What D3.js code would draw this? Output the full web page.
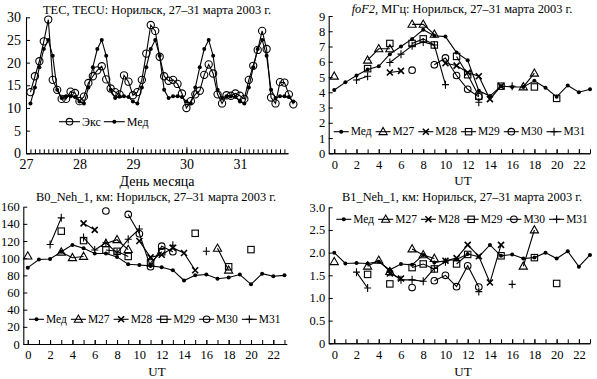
<!DOCTYPE html>
<html><head><meta charset="utf-8">
<script src="https://cdn.jsdelivr.net/npm/d3@7"></script>
<style>
body{margin:0;background:#fff}
svg{display:block}
text{font-family:"Liberation Serif","Times New Roman",serif;fill:#000}
</style>
</head><body>
<svg id="c" width="597" height="379"></svg>
<script>
// ---------- DATA ----------
// Panel 1: TEC
const tecDays = [27, 28, 29, 30, 31];
const tecHours = [2, 4, 6, 8, 10, 12, 14, 16, 18, 20, 22, 24];
const tecEks = [13.5,17,20.3,24.7,29.5,16.2,14,12,12,13.6,13.3,11.5,
                12.5,15.5,17,18.3,19.2,16.3,14.3,13.5,13,17.2,15.8,12.8,
                13.5,16.2,22,28.3,27,21.3,17,16,16.2,15.3,13.2,10,
                11.5,13,13.8,17.3,19.6,17.6,13,11,12.8,12.7,13.2,12.7,
                12,16.2,19.3,22.8,27,23,12.3,11,15.7,15.6,13,10.8];
const tecMed = [11,14.5,19,23,25,21.5,14,12.2,12.6,12.6,12.4,11.4,
                11,14.5,19,23,25,21.5,14,12.2,12.6,12.6,12.4,11.4,
                11,14.5,19,23,25,21.5,14,12.2,12.6,12.6,12.4,11.4,
                11,14.5,19,23,25,21.5,14,12.2,12.6,12.6,12.4,11.4,
                11,14.5,19,23,25,21.5,14,12.2,12.6,12.6,12.4,11.4];
const tecXTicks = [27, 28, 29, 30, 31];
const tecYTicks = [0, 5, 10, 15, 20, 25, 30];

// Panels 2-4: UT hours
const utHours = [0,1,2,3,4,5,6,7,8,9,10,11,12,13,14,15,16,17,18,19,20,21,22,23];
const utTicks = [0,2,4,6,8,10,12,14,16,18,20,22];
const _ = null;

// foF2, MHz
const fofMed = [4.15,4.65,5.1,5.5,5.7,6.5,7.0,7.5,8.1,7.7,7.65,6.6,6.1,4.1,3.75,4.4,4.35,4.35,4.75,4.3,3.7,4.45,4.0,4.2];
const fofM27 = [5.05,_,_,6.1,6.85,6.85,_,8.45,8.45,7.8,_,_,_,_,_,_,_,4.35,5.25,_,_,_,_,_];
const fofM28 = [_,_,_,_,_,5.3,5.4,_,_,_,5.9,5.75,5.3,5.05,3.55,4.4,_,_,_,_,_,_,_,_];
const fofM29 = [_,_,_,5.55,_,7.2,_,7.2,7.5,7.1,_,6.35,5.15,3.75,_,4.4,_,_,4.35,_,3.6,_,_,_];
const fofM30 = [_,_,_,_,_,_,_,5.45,_,5.8,6.25,5.1,4.2,3.7,_,_,_,_,_,_,_,_,_,_];
const fofM31 = [_,_,4.8,5.05,_,5.95,6.5,7.05,7.3,7.1,4.5,_,_,3.35,_,_,4.4,_,_,_,_,_,_,_];
const fofYTicks = [0,1,2,3,4,5,6,7,8,9];

// B0_Neh_1, km
const b0Med = [89,98.5,99,107.5,115.5,111.5,105.5,105.5,101.5,93,92,91,89.5,86,74,80,81,76,77.5,81,69.5,82,79,80];
const b0M27 = [102.5,_,_,107,100.5,102,_,117,121.5,110,_,_,_,_,_,_,_,111.5,86,_,_,_,_,_];
const b0M28 = [_,_,_,_,_,140.5,133,_,_,_,120,101,104,112,106,86,_,_,_,_,_,_,_,_];
const b0M29 = [_,_,_,131.5,_,120.5,_,109.5,108,102,_,94.5,107.5,_,_,129,_,_,90,_,110,_,_,_];
const b0M30 = [_,_,_,_,_,_,_,155,_,151,128.5,90,114,107.5,_,_,_,_,_,_,_,_,_,_];
const b0M31 = [_,_,116,147,_,124,109.5,118,106,122,134,_,_,115,_,_,108,_,_,_,_,_,_,_];
const b0YTicks = [0,20,40,60,80,100,120,140,160];

// B1_Neh_1
const b1Med = [2.0,1.76,1.77,1.76,1.8,1.62,1.75,1.73,1.95,1.78,1.82,1.85,1.97,1.91,2.17,1.93,1.96,1.87,1.89,2.0,1.87,2.03,1.69,1.95];
const b1M27 = [1.8,_,_,1.7,1.83,1.58,_,2.08,1.95,1.87,_,_,_,_,_,_,_,1.7,2.5,_,_,_,_,_];
const b1M28 = [_,_,_,_,_,1.54,1.43,_,_,_,1.82,1.88,2.17,1.92,1.34,2.17,_,_,_,_,_,_,_,_];
const b1M29 = [_,_,_,1.52,_,1.31,_,1.67,1.75,1.64,_,1.75,1.96,_,_,1.93,_,_,1.89,_,1.32,_,_,_];
const b1M30 = [_,_,_,_,_,_,_,1.23,_,1.38,1.5,1.25,1.71,1.24,_,_,_,_,_,_,_,_,_,_];
const b1M31 = [_,_,1.57,1.22,_,1.57,1.4,1.4,1.37,1.65,1.8,_,_,1.14,_,_,1.3,_,_,_,_,_,_,_];
const b1YTicks = [0,0.5,1.0,1.5,2.0,2.5,3.0];

const seriesNames = ["Мед","М27","М28","М29","М30","М31"];
const seriesMarkers = ["dot","tri","x","sq","circle","plus"];

// ---------- DRAWING ----------
const svg = d3.select("#c");

function marker(g, type, cx, cy, big) {
  const s = big ? 1.1 : 1;
  if (type === "dot") {
    g.append("circle").attr("cx", cx).attr("cy", cy).attr("r", 2).attr("fill", "#000");
  } else if (type === "circle") {
    g.append("circle").attr("cx", cx).attr("cy", cy).attr("r", 3.3 * s)
      .attr("fill", "none").attr("stroke", "#000").attr("stroke-width", 1.1);
  } else if (type === "tri") {
    g.append("path").attr("transform", `translate(${cx},${cy})`)
      .attr("d", "M0,-4.3L4.1,2.9L-4.1,2.9Z")
      .attr("fill", "none").attr("stroke", "#000").attr("stroke-width", 1.1);
  } else if (type === "sq") {
    g.append("rect").attr("x", cx - 3.2).attr("y", cy - 3.2).attr("width", 6.4).attr("height", 6.4)
      .attr("fill", "none").attr("stroke", "#000").attr("stroke-width", 1.1);
  } else if (type === "x") {
    g.append("path").attr("transform", `translate(${cx},${cy})`)
      .attr("d", "M-3,-3L3,3M-3,3L3,-3")
      .attr("stroke", "#000").attr("stroke-width", 1.6).attr("fill", "none");
  } else if (type === "plus") {
    g.append("path").attr("transform", `translate(${cx},${cy})`)
      .attr("d", "M-3.5,0H3.5M0,-4V4")
      .attr("stroke", "#000").attr("stroke-width", 1.1).attr("fill", "none");
  }
}

function drawSeries(g, x, y, xs, vals, type) {
  const pts = xs.map((t, i) => [t, vals[i]]);
  const line = d3.line().defined(d => d[1] !== null).x(d => x(d[0])).y(d => y(d[1]));
  g.append("path").datum(pts).attr("d", line)
    .attr("fill", "none").attr("stroke", "#000").attr("stroke-width", 1.1);
  pts.filter(d => d[1] !== null).forEach(d => marker(g, type, x(d[0]), y(d[1]), type === "circle" && xs.length > 30));
}

function styleAxis(sel, fs) {
  sel.selectAll("path.domain").attr("stroke", "#000").attr("stroke-width", 1.1);
  sel.selectAll(".tick line").attr("stroke", "#000").attr("stroke-width", 1);
  sel.selectAll(".tick text").attr("font-size", fs).attr("font-family", '"Liberation Serif", serif');
}

function legend(g, x0, y, names, markers, fs, lineLen, gap) {
  let x = x0;
  names.forEach((n, i) => {
    g.append("line").attr("x1", x).attr("x2", x + lineLen).attr("y1", y).attr("y2", y)
      .attr("stroke", "#000").attr("stroke-width", 1.1);
    marker(g, markers[i], x + lineLen / 2, y, false);
    const t = g.append("text").attr("x", x + lineLen + 2).attr("y", y + fs * 0.33)
      .attr("font-size", fs).text(n);
    x += lineLen + 2 + t.node().getComputedTextLength() + gap;
  });
}

function title(g, cx, y, parts, fs) {
  const t = g.append("text").attr("x", cx).attr("y", y).attr("text-anchor", "middle").attr("font-size", fs);
  parts.forEach(p => { const s = t.append("tspan").text(p[0]); if (p[1]) s.attr("font-style", "italic"); });
}

// ---- Panel 1: TEC ----
(function () {
  const g = svg.append("g");
  const x = d3.scaleLinear().domain([27, 31.9]).range([26, 288]);
  const y = d3.scaleLinear().domain([0, 30]).range([153.3, 17.3]);
  const tecTime = tecDays.flatMap(d => tecHours.map(h => d + h / 24));
  const minor = [27].concat(tecTime.filter(t => t <= 31.9));
  const gm = g.append("g").attr("transform", `translate(0,${y(0)})`)
    .call(d3.axisBottom(x).tickValues(minor).tickFormat("").tickSizeInner(-4).tickSizeOuter(0));
  styleAxis(gm, 14);
  const gx = g.append("g").attr("transform", `translate(0,${y(0)})`)
    .call(d3.axisBottom(x).tickValues(tecXTicks).tickFormat(d3.format("d")).tickSizeInner(-6).tickSizeOuter(0).tickPadding(6));
  styleAxis(gx, 14);
  const gy = g.append("g").attr("transform", `translate(${x(27)},0)`)
    .call(d3.axisLeft(y).tickValues(tecYTicks).tickSizeInner(-4).tickSizeOuter(0).tickPadding(5));
  styleAxis(gy, 14);
  drawSeries(g, x, y, tecTime, tecEks, "circle");
  drawSeries(g, x, y, tecTime, tecMed, "dot");
  legend(g, 59, 121.7, ["Экс", "Мед"], ["circle", "dot"], 12, 21, 3);
  title(g, 157, 13.5, [["TEC, TECU: Норильск, 27–31 марта 2003 г."]], 12.4);
  g.append("text").attr("x", 157).attr("y", 186).attr("text-anchor", "middle").attr("font-size", 14).text("День месяца");
})();

function utPanel(cfg) {
  const g = svg.append("g");
  const x = d3.scaleLinear().domain(cfg.xd).range(cfg.xr);
  const y = d3.scaleLinear().domain(cfg.yd).range(cfg.yr);
  const gm = g.append("g").attr("transform", `translate(0,${y(0)})`)
    .call(d3.axisBottom(x).tickValues(utHours).tickFormat("").tickSizeInner(-4).tickSizeOuter(0));
  styleAxis(gm, 12.5);
  const gx = g.append("g").attr("transform", `translate(0,${y(0)})`)
    .call(d3.axisBottom(x).tickValues(utTicks).tickFormat(d3.format("d")).tickSizeInner(-4).tickSizeOuter(0).tickPadding(6.5));
  styleAxis(gx, 12.5);
  const gy = g.append("g").attr("transform", `translate(${cfg.xr[0]},0)`)
    .call(d3.axisLeft(y).tickValues(cfg.yt).tickFormat(cfg.yf).tickSizeInner(-4).tickSizeOuter(0).tickPadding(3.5));
  styleAxis(gy, 12.5);
  cfg.series.forEach((s, i) => drawSeries(g, x, y, utHours, s, seriesMarkers[i]));
  legend(g, cfg.lx, cfg.ly, seriesNames, seriesMarkers, 11.5, 15, 4);
  title(g, cfg.tx, cfg.ty, cfg.title, 12.4);
  g.append("text").attr("x", cfg.ux).attr("y", cfg.uy).attr("text-anchor", "middle").attr("font-size", 13).text("UT");
}

utPanel({
  xd: [-0.5, 23], xr: [328.7, 590], yd: [0, 9], yr: [153.3, 16],
  yt: fofYTicks, yf: d3.format("d"),
  series: [fofMed, fofM27, fofM28, fofM29, fofM30, fofM31],
  lx: 333.7, ly: 131.7, tx: 462, ty: 13.3,
  title: [["foF2", true], [", МГц: Норильск, 27–31 марта 2003 г."]],
  ux: 463, uy: 184.5
});
utPanel({
  xd: [-0.4, 23.2], xr: [23.3, 286.7], yd: [0, 160], yr: [344, 206.7],
  yt: b0YTicks, yf: d3.format("d"),
  series: [b0Med, b0M27, b0M28, b0M29, b0M30, b0M31],
  lx: 29, ly: 319.3, tx: 156, ty: 201,
  title: [["B0_Neh_1, км: Норильск, 27–31 марта 2003 г."]],
  ux: 157, uy: 375.5
});
utPanel({
  xd: [-0.5, 23], xr: [328.7, 590], yd: [0, 3], yr: [343.3, 207.3],
  yt: b1YTicks, yf: d => d === 0 ? "0" : d3.format(".1f")(d),
  series: [b1Med, b1M27, b1M28, b1M29, b1M30, b1M31],
  lx: 336.3, ly: 219.3, tx: 462, ty: 201,
  title: [["B1_Neh_1, км: Норильск, 27–31 марта 2003 г."]],
  ux: 463, uy: 375.5
});
</script>
</body></html>
